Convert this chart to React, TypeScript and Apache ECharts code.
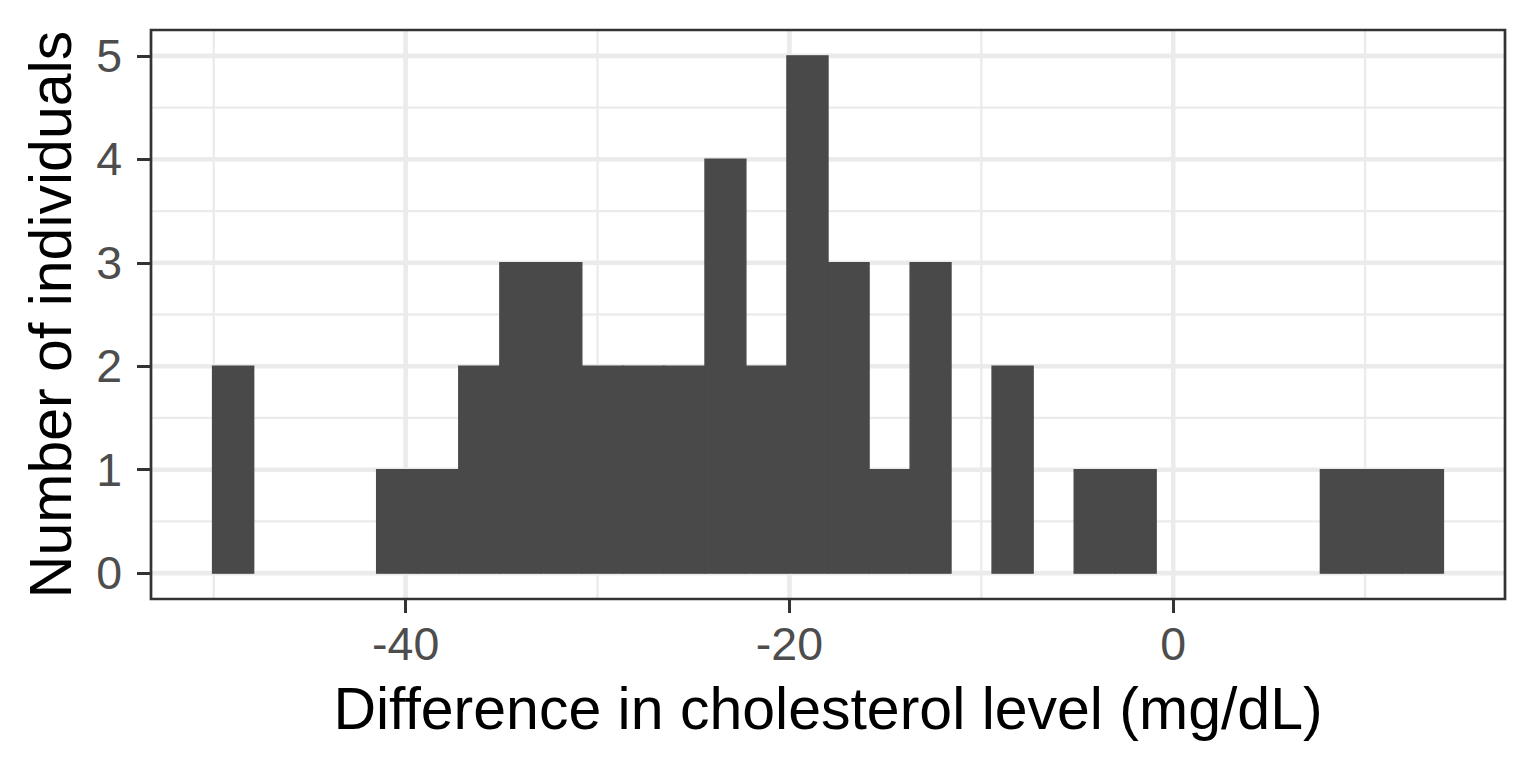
import React, { useEffect, useRef } from "react";
import * as echarts from "echarts";

// Histogram bins: left edge, right edge, count
const binLeft = [
  -50.06, -47.92, -45.78, -43.65, -41.51, -39.37, -37.23, -35.09, -32.96, -30.82,
  -28.68, -26.54, -24.4, -22.27, -20.13, -17.99, -15.85, -13.71, -11.58, -9.44,
  -7.3, -5.16, -3.02, -0.89, 1.25, 3.39, 5.53, 7.67, 9.8, 11.94,
];
const binRight = [
  -47.92, -45.78, -43.65, -41.51, -39.37, -37.23, -35.09, -32.96, -30.82, -28.68,
  -26.54, -24.4, -22.27, -20.13, -17.99, -15.85, -13.71, -11.58, -9.44, -7.3,
  -5.16, -3.02, -0.89, 1.25, 3.39, 5.53, 7.67, 9.8, 11.94, 14.08,
];
const binCounts = [
  2, 0, 0, 0, 1, 1, 2, 3, 3, 2,
  2, 2, 4, 2, 5, 3, 1, 3, 0, 2,
  0, 1, 1, 0, 0, 0, 0, 1, 1, 1,
];

// Axis ticks and grid lines
const xTicks = [-40, -20, 0];
const xMinor = [-50, -30, -10, 10];
const yTicks = [0, 1, 2, 3, 4, 5];
const yMinor = [0.5, 1.5, 2.5, 3.5, 4.5];
const xRange = [-53.27, 17.29];
const yRange = [-0.25, 5.25];

const xTitle = "Difference in cholesterol level (mg/dL)";
const yTitle = "Number of individuals";

const FONT = "'Liberation Sans', Arial, Helvetica, sans-serif";

export default function App() {
  const ref = useRef<HTMLDivElement>(null);

  useEffect(() => {
    if (!ref.current) return;
    const chart = echarts.init(ref.current, undefined, { renderer: "svg" });

    const barData = binLeft.map((l, i) => [l, binRight[i], binCounts[i]]);
    const vLines = [
      ...xMinor.map((v) => [v, 0, 2.3]),
      ...xTicks.map((v) => [v, 0, 4.6]),
    ];
    const hLines = [
      ...yMinor.map((v) => [0, v, 2.3]),
      ...yTicks.map((v) => [0, v, 4.6]),
    ];

    const option: any = {
      animation: false,
      backgroundColor: "#ffffff",
      grid: { left: 151, right: 31, top: 30, bottom: 169, containLabel: false },
      xAxis: {
        type: "value",
        min: xRange[0],
        max: xRange[1],
        name: xTitle,
        nameLocation: "middle",
        nameGap: 80,
        nameTextStyle: { fontFamily: FONT, fontSize: 59, color: "#000000" },
        axisLine: { show: false, onZero: false },
        axisTick: {
          show: true,
          customValues: xTicks,
          length: 14,
          lineStyle: { color: "#333333", width: 3 },
        },
        axisLabel: {
          customValues: xTicks,
          margin: 21,
          fontFamily: FONT,
          fontSize: 46.5,
          color: "#4D4D4D",
        },
        splitLine: { show: false },
      },
      yAxis: {
        type: "value",
        min: yRange[0],
        max: yRange[1],
        name: yTitle,
        nameLocation: "middle",
        nameRotate: 90,
        nameGap: 71,
        nameTextStyle: { fontFamily: FONT, fontSize: 59, color: "#000000" },
        axisLine: { show: false, onZero: false },
        axisTick: {
          show: true,
          customValues: yTicks,
          length: 14,
          lineStyle: { color: "#333333", width: 3 },
        },
        axisLabel: {
          customValues: yTicks,
          margin: 29,
          fontFamily: FONT,
          fontSize: 46.5,
          color: "#4D4D4D",
        },
        splitLine: { show: false },
      },
      series: [
        {
          type: "custom",
          z: 1,
          silent: true,
          data: vLines,
          encode: { x: 0, y: 1 },
          renderItem: (params: any, api: any) => {
            const cs = params.coordSys;
            const p = api.coord([api.value(0), 0]);
            return {
              type: "line",
              shape: { x1: p[0], y1: cs.y, x2: p[0], y2: cs.y + cs.height },
              style: { stroke: "#EBEBEB", lineWidth: api.value(2) },
            };
          },
        },
        {
          type: "custom",
          z: 1,
          silent: true,
          data: hLines,
          encode: { x: 0, y: 1 },
          renderItem: (params: any, api: any) => {
            const cs = params.coordSys;
            const p = api.coord([0, api.value(1)]);
            return {
              type: "line",
              shape: { x1: cs.x, y1: p[1], x2: cs.x + cs.width, y2: p[1] },
              style: { stroke: "#EBEBEB", lineWidth: api.value(2) },
            };
          },
        },
        {
          type: "custom",
          z: 2,
          data: barData,
          encode: { x: [0, 1], y: 2 },
          renderItem: (params: any, api: any) => {
            const c = api.value(2);
            if (!c) return null;
            const p0 = api.coord([api.value(0), c]);
            const p1 = api.coord([api.value(1), 0]);
            return {
              type: "rect",
              shape: { x: p0[0], y: p0[1], width: p1[0] - p0[0], height: p1[1] - p0[1] },
              style: { fill: "#494949", stroke: "#494949", lineWidth: 1.4 },
            };
          },
        },
        {
          type: "custom",
          z: 3,
          silent: true,
          data: [[0, 0]],
          encode: { x: 0, y: 1 },
          renderItem: (params: any) => {
            const cs = params.coordSys;
            return {
              type: "rect",
              shape: { x: cs.x, y: cs.y, width: cs.width, height: cs.height },
              style: { fill: "none", stroke: "#333333", lineWidth: 2.7 },
            };
          },
        },
      ],
    };

    chart.setOption(option);
    return () => chart.dispose();
  }, []);

  return (
    <div
      ref={ref}
      style={{ position: "absolute", left: 0, top: 0, width: 1536, height: 768 }}
    />
  );
}
